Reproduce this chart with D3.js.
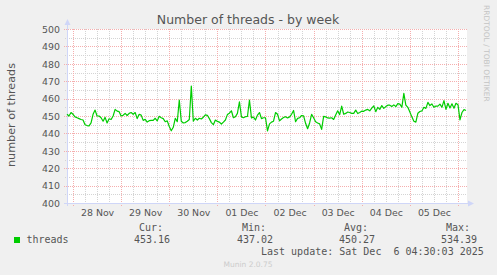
<!DOCTYPE html>
<html>
<head>
<meta charset="utf-8">
<script src="https://cdn.jsdelivr.net/npm/d3@7"></script>
<style>
  html, body { margin: 0; padding: 0; background: #f0f0f0; }
  svg { display: block; }
</style>
</head>
<body>
<svg id="chart" width="497" height="275"></svg>
<script>
/*
	Munin style "Number of threads - by week" graph, redrawn with D3
*/

// first sample, then one sample per hour
var startTime = Date.UTC(2025, 10, 27, 21, 0);
var endTime = Date.UTC(2025, 11, 6, 4, 30);

var threads = [
	451, 450, 452, 451, 449.5, 449, 448.5, 448, 447.7, 445,
	444.5, 444.3, 446, 451, 453.4, 450, 450, 449, 447, 449.2,
	446, 448.4, 448, 450, 453.8, 452.8, 452.5, 450, 450.4, 451.5,
	450.3, 451.5, 452, 451, 452, 448.5, 451, 450.5, 447.5, 448.1,
	446.5, 447.3, 447.5, 447.5, 448.7, 447.2, 449.8, 449, 448.5, 446.7,
	447.2, 444, 441.5, 443.5, 448.7, 446.7, 459.2, 447, 446, 446.2,
	447, 448, 467.2, 447, 448.7, 447.7, 448.7, 448.3, 449.3, 450.6,
	450.4, 448.5, 446.2, 445, 447.7, 446.9, 446.5, 445.4, 446.5, 447.7,
	450.8, 451.6, 453, 449, 449.6, 451.5, 458.2, 449.5, 449, 449.6,
	449.7, 459.2, 448.9, 449.4, 447.7, 450.5, 452, 448.5, 449, 449,
	441.5, 445.5, 446.5, 447, 452, 451, 447.2, 448.3, 449.1, 449.6,
	448.9, 449.5, 451, 453.2, 446.7, 448.6, 449, 450.3, 450.1, 445.8,
	442.7, 446, 451, 449, 446.7, 446, 445.5, 442.3, 449.8, 449.5,
	448.9, 448.8, 449, 448, 450.6, 453, 450.8, 455.7, 451, 451.5,
	452.3, 452, 451.5, 451.5, 453.4, 451.4, 452, 452.8, 452.7, 453.4,
	453.8, 453, 454.5, 455.8, 452.5, 455, 453.8, 456, 454.4, 455.4,
	456.2, 456.2, 455.5, 456.4, 455.4, 457.1, 456.8, 455, 463, 456.3,
	455, 452.3, 449.5, 447, 446.5, 451.6, 452.6, 452.9, 455, 454.4,
	457.8, 456, 456.9, 455, 455.7, 455.7, 456.8, 455, 458.8, 453.8,
	457.3, 454.6, 457, 454.5, 457.3, 456.5, 447.8, 452, 453.7, 453.2
];

var yTicks = [400, 410, 420, 430, 440, 450, 460, 470, 480, 490, 500];
var legendHeads = ['Cur:', 'Min:', 'Avg:', 'Max:'];
var legendValues = ['453.16', '437.02', '450.27', '534.39'];
var legendRight = [163, 266, 368, 470];
var lastUpdate = 'Last update: Sat Dec  6 04:30:03 2025';

var HOUR = 3600 * 1000;
var points = threads.map(function(v, i){ return [startTime + i * HOUR, v]; });

// plot area (window.top is taken, hence the prefix)
var plotLeft = 67, plotRight = 467, plotTop = 29, plotBottom = 203;

var svg = d3.select('#chart');
var x = d3.scaleTime().domain([startTime, endTime]).range([plotLeft, plotRight]);
var y = d3.scaleLinear().domain([400, 500]).range([plotBottom, plotTop]);

svg.append('rect').attr('width', 497).attr('height', 275).attr('fill', '#f0f0f0');
svg.append('rect').attr('x', plotLeft).attr('y', plotTop)
	.attr('width', plotRight - plotLeft).attr('height', plotBottom - plotTop).attr('fill', '#ffffff');

var grid = svg.append('g').attr('shape-rendering', 'crispEdges');
var minorColor = '#d4d4d4', majorColor = '#f5aeae';

// minor grid: every 6 hours / every 5 threads
var sixHours = d3.utcHour.every(6).range(new Date(startTime), new Date(endTime))
	.filter(function(d){ return d.getUTCHours() != 0; });
grid.selectAll('.vminor').data(sixHours).enter().append('line')
	.attr('x1', function(d){ return Math.round(x(d)) + 0.5; })
	.attr('x2', function(d){ return Math.round(x(d)) + 0.5; })
	.attr('y1', plotTop).attr('y2', plotBottom + 2)
	.attr('stroke', minorColor).attr('stroke-dasharray', '1,1');

var fives = d3.range(405, 500, 10);
grid.selectAll('.hminor').data(fives).enter().append('line')
	.attr('x1', plotLeft - 2).attr('x2', plotRight)
	.attr('y1', function(d){ return Math.round(y(d)) + 0.5; })
	.attr('y2', function(d){ return Math.round(y(d)) + 0.5; })
	.attr('stroke', minorColor).attr('stroke-dasharray', '1,1');

// major grid: midnights / every 10 threads
var midnights = d3.utcDay.range(new Date(startTime), new Date(endTime));
grid.selectAll('.vmajor').data(midnights).enter().append('line')
	.attr('x1', function(d){ return Math.round(x(d)) + 0.5; })
	.attr('x2', function(d){ return Math.round(x(d)) + 0.5; })
	.attr('y1', plotTop).attr('y2', plotBottom + 3)
	.attr('stroke', majorColor).attr('stroke-dasharray', '1,1');

grid.selectAll('.hmajor').data(yTicks.slice(1)).enter().append('line')
	.attr('x1', plotLeft - 3).attr('x2', plotRight)
	.attr('y1', function(d){ return Math.round(y(d)) + 0.5; })
	.attr('y2', function(d){ return Math.round(y(d)) + 0.5; })
	.attr('stroke', majorColor).attr('stroke-dasharray', '1,1');

// axes lines and arrows
var axisColor = '#cfd6f8';
grid.append('line').attr('x1', plotLeft - 3).attr('x2', plotRight + 5)
	.attr('y1', plotBottom + 0.5).attr('y2', plotBottom + 0.5).attr('stroke', axisColor);
grid.append('line').attr('x1', plotLeft + 0.5).attr('x2', plotLeft + 0.5)
	.attr('y1', plotBottom + 3).attr('y2', plotTop - 6).attr('stroke', axisColor);
svg.append('path').attr('d', 'M' + (plotRight + 1) + ',' + (plotBottom - 2.5) + 'L' + (plotRight + 7) + ',' + (plotBottom + 0.5) + 'L' + (plotRight + 1) + ',' + (plotBottom + 3.5) + 'Z')
	.attr('fill', axisColor);
svg.append('path').attr('d', 'M' + (plotLeft - 2.5) + ',' + (plotTop - 4) + 'L' + (plotLeft + 0.5) + ',' + (plotTop - 10) + 'L' + (plotLeft + 3.5) + ',' + (plotTop - 4) + 'Z')
	.attr('fill', axisColor);

// the data line
var line = d3.line().x(function(d){ return x(d[0]); }).y(function(d){ return y(d[1]); });
svg.append('path').datum(points).attr('d', line)
	.attr('fill', 'none').attr('stroke', '#00cc00').attr('stroke-width', 1.2)
	.attr('stroke-linejoin', 'round');

// axis labels
var noons = midnights.map(function(d){ return new Date(d.getTime() + 12 * HOUR); })
	.filter(function(d){ return d.getTime() < endTime; });
var xAxis = d3.axisBottom(x).tickValues(noons).tickSize(0).tickPadding(0)
	.tickFormat(d3.utcFormat('%d %b'));
var gx = svg.append('g').attr('transform', 'translate(0,' + (plotBottom + 13) + ')').call(xAxis);
gx.select('.domain').remove();
gx.selectAll('text').attr('dy', 0).attr('y', 0)
	.attr('font-family', 'DejaVu Sans').attr('font-size', '9.4px').attr('fill', '#555');

var yAxis = d3.axisLeft(y).tickValues(yTicks).tickSize(0).tickPadding(0);
var gy = svg.append('g').attr('transform', 'translate(60,0)').call(yAxis);
gy.select('.domain').remove();
gy.selectAll('text').attr('dy', '0.35em')
	.attr('font-family', 'DejaVu Sans').attr('font-size', '9.4px').attr('fill', '#555');

// titles
svg.append('text').attr('x', 248).attr('y', 23.5).attr('text-anchor', 'middle')
	.attr('font-family', 'DejaVu Sans').attr('font-size', '12.5px').attr('fill', '#555')
	.text('Number of threads - by week');

svg.append('text').attr('transform', 'translate(15,' + ((plotTop + plotBottom) / 2 - 1) + ') rotate(-90)')
	.attr('text-anchor', 'middle')
	.attr('font-family', 'DejaVu Sans').attr('font-size', '11.2px').attr('fill', '#555')
	.text('number of threads');

svg.append('text').attr('transform', 'translate(484,5) rotate(90)')
	.attr('font-family', 'DejaVu Sans').attr('font-size', '7.5px').attr('fill', '#c4c4c4')
	.text('RRDTOOL / TOBI OETIKER');

// legend
var mono = 'DejaVu Sans Mono';
svg.append('rect').attr('x', 14).attr('y', 237).attr('width', 6).attr('height', 6).attr('fill', '#00cc00');
svg.append('text').attr('x', 26.5).attr('y', 242.5)
	.attr('font-family', mono).attr('font-size', '10px').attr('fill', '#555').text('threads');

legendHeads.forEach(function(h, i){
	svg.append('text').attr('x', legendRight[i]).attr('y', 230.5).attr('text-anchor', 'end')
		.attr('font-family', mono).attr('font-size', '10px').attr('fill', '#555').text(h);
	svg.append('text').attr('x', legendRight[i] + 7).attr('y', 242.5).attr('text-anchor', 'end')
		.attr('font-family', mono).attr('font-size', '10px').attr('fill', '#555').text(legendValues[i]);
});

svg.append('text').attr('x', 261).attr('y', 255)
	.style('white-space', 'pre')
	.attr('font-family', mono).attr('font-size', '10px').attr('fill', '#555').text(lastUpdate);

svg.append('text').attr('x', 248).attr('y', 266.5).attr('text-anchor', 'middle')
	.attr('font-family', 'DejaVu Sans').attr('font-size', '7.5px').attr('fill', '#cccccc')
	.text('Munin 2.0.75');
</script>
</body>
</html>
